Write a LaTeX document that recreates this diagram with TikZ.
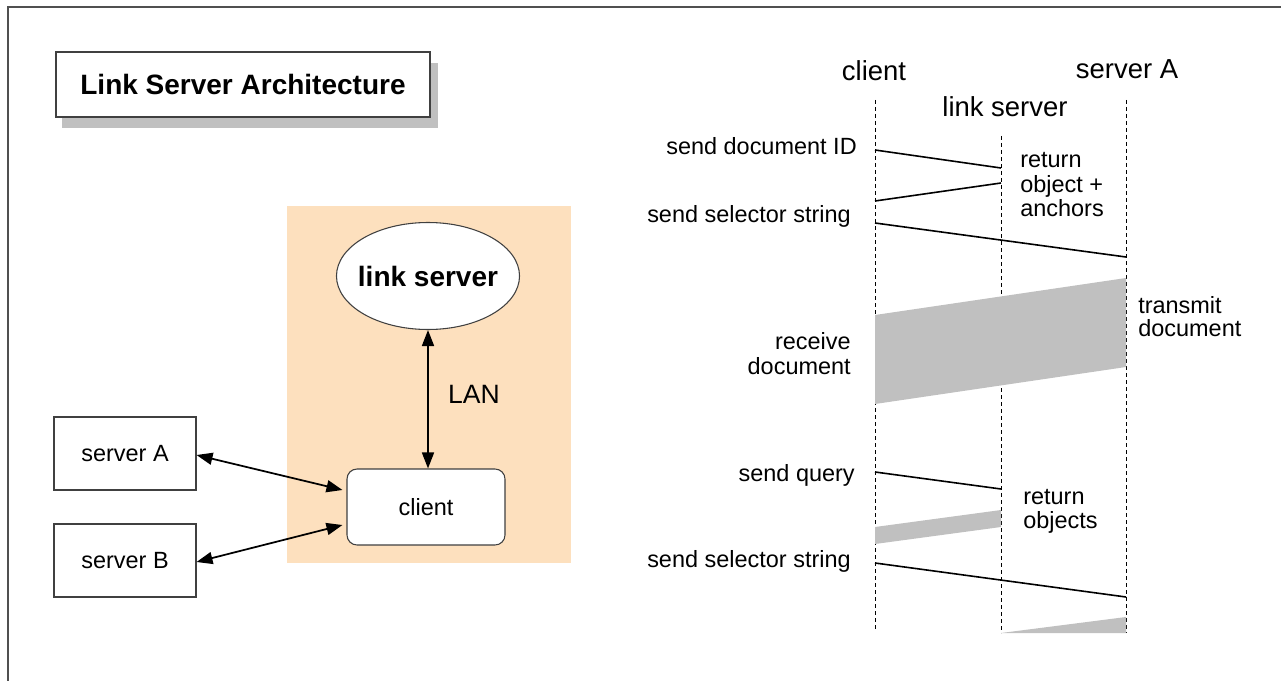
\documentclass[tikz,border=0pt]{standalone}
\usepackage{fontspec}
\setmainfont{Liberation Sans}
\usetikzlibrary{arrows.meta,shapes.geometric,calc}
\definecolor{peach}{RGB}{253,224,190}
\definecolor{shadowgray}{RGB}{192,192,192}
\definecolor{framegray}{RGB}{80,80,80}
\begin{document}
\begin{tikzpicture}[x=0.75pt,y=-0.75pt,
  lbl/.style={font=\fontsize{17.6pt}{18pt}\selectfont, inner sep=0pt},
  hdr/.style={font=\fontsize{20.6pt}{22pt}\selectfont, inner sep=0pt, anchor=base},
  boxnode/.style={draw=black!75, line width=0.8pt, fill=white, inner sep=0pt,
    font=\fontsize{17.6pt}{18pt}\selectfont},
  conn/.style={line width=1.3pt, {Triangle[length=12pt,width=9pt]}-{Triangle[length=12pt,width=9pt]}},
  msg/.style={line width=1.2pt},
  life/.style={line width=0.7pt, dash pattern=on 3pt off 2.25pt},
  band/.style={fill=shadowgray, draw=none}]
\useasboundingbox (0,0) rectangle (1281,681);
\begin{scope}
\clip (0,0) rectangle (1281,681);
\draw[framegray, line width=1pt] (8,7) rectangle (1300,700);
\end{scope}

% title
\fill[fill=shadowgray] (62,63) rectangle (438,128);
\node[boxnode, minimum width=280.5pt, minimum height=48.75pt, font=\fontsize{21pt}{22pt}\selectfont\bfseries]
  (title) at (243,84.5) {Link Server Architecture};

% left architecture
\fill[fill=peach] (287,206) rectangle (571,563);
\node[draw=black!75, line width=0.8pt, fill=white, ellipse, inner xsep=-4pt, inner ysep=0pt,
  minimum width=136.5pt, minimum height=80.25pt, font=\fontsize{21pt}{22pt}\selectfont\bfseries]
  (ls) at (428,276) {link server};
\node[boxnode, rounded corners=7.5pt, minimum width=118.5pt, minimum height=57pt]
  (client) at (426,507) {client};
\node[boxnode, minimum width=106.5pt, minimum height=54.75pt] (sA) at (125,453.5) {server A};
\node[boxnode, minimum width=106.5pt, minimum height=54.75pt] (sB) at (125,560.5) {server B};
\draw[conn] (ls.south) -- (ls.south |- client.north);
\node[font=\fontsize{19.9pt}{20pt}\selectfont, inner sep=0pt, anchor=base] (lan) at (474,403) {LAN};
\draw[conn] ($(sA.east)+(0,1.5)$) -- ($(client.west)+(-4,-17)$);
\draw[conn] ($(sB.east)+(0,1.5)$) -- ($(client.west)+(-4,18)$);

% sequence diagram
\node[hdr] (hc) at (874,81) {client};
\node[hdr] (hs) at (1127,79) {server A};
\node[hdr] (hl) at (1005,117) {link server};
\coordinate (ct) at (875,100);  \coordinate (cb) at (875,629);
\coordinate (lt) at (1001,136); \coordinate (lb) at (1001,633);
\coordinate (st) at (1126,100); \coordinate (sb) at (1126,633);
\draw[life] (ct) -- (cb);
\draw[life] (lt) -- (lb);
\draw[life] (st) -- (sb);

\draw[msg] (ct |- 0,150) -- (lt |- 0,168);
\draw[msg] (lt |- 0,183) -- (ct |- 0,201);
\draw[msg] (ct |- 0,223) -- (st |- 0,257);
\fill[band] (ct |- 0,315) -- (st |- 0,278) -- (st |- 0,367) -- (ct |- 0,404) -- cycle;
\draw[msg] (ct |- 0,472) -- (lt |- 0,489);
\fill[band] (ct |- 0,527) -- (lt |- 0,510) -- (lt |- 0,527) -- (ct |- 0,544) -- cycle;
\draw[msg] (ct |- 0,563) -- (st |- 0,597);
\fill[band] (lb) -- (st |- 0,617) -- (sb) -- cycle;

\node[lbl, anchor=base east] (t1) at (857,155) {send document ID};
\node[lbl, anchor=base east] (t2) at (851,222) {send selector string};
\node[lbl, anchor=base west] (t3a) at (1020,168) {return};
\node[lbl, anchor=base west] (t3b) at (1020,192) {object +};
\node[lbl, anchor=base west] (t3c) at (1020,216) {anchors};
\node[lbl, anchor=base west] (t4a) at (1138,313) {transmit};
\node[lbl, anchor=base west] (t4b) at (1138,336) {document};
\node[lbl, anchor=base east] (t5a) at (851,349) {receive};
\node[lbl, anchor=base east] (t5b) at (851,374) {document};
\node[lbl, anchor=base east] (t6) at (855,481) {send query};
\node[lbl, anchor=base west] (t7a) at (1023,504) {return};
\node[lbl, anchor=base west] (t7b) at (1023,528) {objects};
\node[lbl, anchor=base east] (t8) at (851,567) {send selector string};
\end{tikzpicture}
\end{document}
